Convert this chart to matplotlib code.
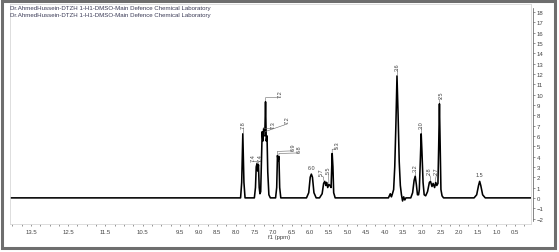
"""
nmr_plot.py
"""

import matplotlib
matplotlib.use("Agg")
import matplotlib.pyplot as plt
from matplotlib.patches import Rectangle
from matplotlib.ticker import MultipleLocator, FixedLocator

TITLE = "Dr.AhmedHussein-DTZH 1-H1-DMSO-Main Defence Chemical Laboratory"

# spectrum, chemical shift (ppm) and intensity
shift_ppm = [
    14.05, 7.90, 7.87, 7.84, 7.81, 7.78, 7.75,
    7.50, 7.47, 7.45, 7.43, 7.41, 7.39, 7.37, 7.35, 7.33,
    7.31, 7.29, 7.27, 7.25, 7.22, 7.20, 7.18, 7.16, 7.14, 7.11, 7.07,
    6.93, 6.90, 6.88, 6.86, 6.84, 6.82, 6.79,
    6.10, 6.04, 6.00, 5.97, 5.94, 5.90, 5.84,
    5.75, 5.68, 5.64, 5.61, 5.58, 5.56, 5.53, 5.50, 5.47, 5.44, 5.41, 5.39, 5.37, 5.33,
    3.90, 3.85, 3.82, 3.80, 3.76, 3.73, 3.70, 3.67, 3.64, 3.61, 3.58, 3.55, 3.52, 3.49, 3.46, 3.43,
    3.30, 3.25, 3.21, 3.18, 3.15, 3.12, 3.09, 3.07, 3.04, 3.02, 3.00, 2.97, 2.94, 2.90,
    2.85, 2.80, 2.77, 2.73, 2.70, 2.66, 2.63, 2.60, 2.57, 2.55, 2.53, 2.51, 2.49, 2.46, 2.42,
    1.60, 1.53, 1.48, 1.45, 1.42, 1.37, 1.30, 0.05,
]
intensity = [
    0.0, 0.0, 0.0, 1.5, 6.2, 1.5, 0.0,
    0.0, 1.0, 3.0, 3.3, 2.6, 3.2, 1.0, 0.4, 0.6,
    3.5, 6.4, 5.5, 6.7, 6.0, 9.3, 5.5, 6.0, 2.5, 0.3, 0.0,
    0.0, 1.0, 4.1, 3.6, 4.0, 1.0, 0.0,
    0.0, 0.5, 2.0, 2.3, 2.0, 0.5, 0.0,
    0.0, 0.4, 1.4, 1.6, 1.2, 1.5, 1.0, 1.3, 1.2, 1.0, 4.3, 3.0, 0.5, 0.0,
    0.0, 0.4, 0.1, 0.3, 0.8, 3.0, 7.0, 11.8, 8.0, 3.5, 1.2, 0.3, -0.3, 0.1, -0.2, 0.0,
    0.0, 0.5, 1.7, 2.1, 1.3, 0.3, 0.3, 0.8, 4.0, 6.2, 4.5, 1.5, 0.3, 0.2,
    0.6, 1.5, 1.6, 1.1, 1.4, 1.0, 1.5, 1.2, 1.4, 5.0, 9.1, 5.0, 0.8, 0.2, 0.0,
    0.0, 0.3, 1.2, 1.6, 1.2, 0.3, 0.0, 0.0,
]

# peak labels: text, peak shift, peak top
peak_labels = ["7.8", "7.4", "7.4", "7.2", "7.3", "7.2", "6.9", "6.8",
               "5.7", "5.5", "5.3", "3.6", "3.2", "3.0", "2.8", "2.7", "2.5"]
peak_ppm = [7.81, 7.43, 7.39, 7.20, 7.25, 7.22, 6.88, 6.84,
            5.64, 5.50, 5.41, 3.67, 3.18, 3.02, 2.77, 2.63, 2.53]
peak_top = [6.2, 3.3, 3.2, 9.3, 6.7, 6.0, 4.1, 4.0,
            1.6, 1.3, 4.3, 11.8, 2.1, 6.2, 1.6, 1.5, 9.1]

# where each rotated label sits (shift, bottom of text)
label_ppm = [7.81, 7.53, 7.34, 6.81, 7.00, 6.62, 6.46, 6.30,
             5.70, 5.52, 5.27, 3.67, 3.18, 3.02, 2.80, 2.61, 2.48]
label_base = [6.8, 3.6, 3.6, 9.8, 6.8, 7.2, 4.6, 4.4,
              2.2, 2.4, 4.8, 12.4, 2.6, 6.8, 2.3, 2.3, 9.7]

# horizontal labels (6.0 and 1.5)
flat_labels = ["6.0", "1.5"]
flat_ppm = [5.97, 1.45]
flat_top = [2.3, 1.6]

xtick_values = [13.5, 12.5, 11.5, 10.5, 9.5, 9.0, 8.5, 8.0, 7.5, 7.0, 6.5, 6.0,
                5.5, 5.0, 4.5, 4.0, 3.5, 3.0, 2.5, 2.0, 1.5, 1.0, 0.5]


def main():

    fig = plt.figure(figsize=(5.59, 2.53), dpi=100)
    plt.rcParams['font.family'] = ['Liberation Sans', 'DejaVu Sans']

    # grey border around the whole screenshot
    fig.patches.append(Rectangle((0.003, 0.016), 0.99, 0.978, transform=fig.transFigure,
                                 fill=False, edgecolor='#6e6e6e', linewidth=2.2))

    ax = fig.add_axes([0.018, 0.111, 0.932, 0.87])
    ax.plot(shift_ppm, intensity, color='black', linewidth=1.15)

    ax.set_xlim(14.06, 0.07)
    ax.set_ylim(-2.52, 18.78)

    # light box around the plot area, y axis outside on the right
    for side in ['left', 'top', 'bottom']:
        ax.spines[side].set_color('#d8d8d8')
        ax.spines[side].set_linewidth(0.6)
    ax.spines['right'].set_position(('outward', 1.5))
    ax.spines['right'].set_bounds(-2.2, 18.4)
    ax.spines['right'].set_color('#555555')
    ax.spines['right'].set_linewidth(0.5)
    ax.plot([0.07, 0.07], [-2.52, 18.78], color='#d8d8d8', linewidth=0.6, clip_on=False)

    ax.yaxis.tick_right()
    ax.yaxis.set_major_locator(MultipleLocator(1))
    ax.tick_params(axis='y', length=1.5, width=0.4, pad=1, labelsize=4.3,
                   colors='#444444')

    ax.xaxis.set_major_locator(FixedLocator(xtick_values))
    ax.set_xticklabels([f"{v:.1f}" for v in xtick_values])
    ax.xaxis.set_minor_locator(MultipleLocator(0.25))
    ax.tick_params(axis='x', which='both', length=1.5, width=0.4, pad=2.5,
                   labelsize=4.3, colors='#444444')
    ax.set_xlabel("f1 (ppm)", fontsize=4.3, color='#444444', labelpad=-1)
    ax.xaxis.set_label_coords(0.517, -0.045)

    # rotated peak labels with leader lines that bend towards the label
    for text, x, top, lx, lb in zip(peak_labels, peak_ppm, peak_top, label_ppm, label_base):
        knee = min(top + 0.4, lb - 0.1)
        ax.plot([x, x, lx], [top + 0.1, knee, lb - 0.05], color='#666666', linewidth=0.4)
        ax.text(lx, lb, text, rotation=90, fontsize=4, color='#444444',
                ha='center', va='bottom')

    for text, x, top in zip(flat_labels, flat_ppm, flat_top):
        ax.text(x, top + 0.4, text, fontsize=4, color='#444444', ha='center', va='bottom')

    # the title line is printed twice in the reference
    fig.text(0.018, 0.962, TITLE, fontsize=4.4, color='#3a3a55')
    fig.text(0.018, 0.934, TITLE, fontsize=4.4, color='#3a3a55')

    fig.savefig("out.png", dpi=100)


if __name__ == '__main__':
    main()
